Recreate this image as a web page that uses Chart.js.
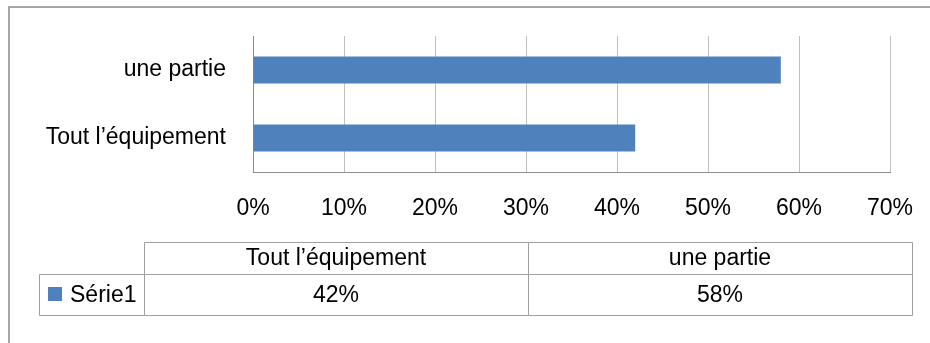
<!DOCTYPE html>
<html>
<head>
<meta charset="utf-8">
<script src="https://cdn.jsdelivr.net/npm/chart.js@4/dist/chart.umd.min.js"></script>
<style>
  html, body { margin: 0; padding: 0; background: #ffffff; }
  #wrap { width: 930px; height: 343px; position: relative; }
</style>
</head>
<body>
<div id="wrap"><canvas id="c" width="930" height="343"></canvas></div>
<script>
// Categories (in data-table order) and the single series, in percent
const categories = ["Tout l\u2019équipement", "une partie"];
const seriesName = "Série1";
const seriesValues = [42, 58];
const xTicks = [0, 10, 20, 30, 40, 50, 60, 70];

const BAR_BLUE = "#4F81BD";
const FONT = '"Liberation Sans", Arial, sans-serif';
const FONT_SIZE = 23;

// Outer frame plus the data table under the plot
const tablePlugin = {
  id: "dataTable",
  afterDraw(chart) {
    const ctx = chart.ctx;
    ctx.save();

    // chart frame (left and top edges)
    ctx.strokeStyle = "#A6A6A6";
    ctx.lineWidth = 2;
    ctx.beginPath();
    ctx.moveTo(9, 343);
    ctx.lineTo(9, 7);
    ctx.lineTo(930, 7);
    ctx.stroke();

    // table geometry
    const left = 39, keyRight = 144, right = 912;
    const top = 242, mid = 274, bottom = 315;
    const colW = (right - keyRight) / categories.length;

    ctx.strokeStyle = "#A0A0A0";
    ctx.lineWidth = 1;
    ctx.beginPath();
    // header row
    ctx.moveTo(keyRight + 0.5, top + 0.5);
    ctx.lineTo(right + 0.5, top + 0.5);
    // row separator and bottom
    ctx.moveTo(left + 0.5, mid + 0.5);
    ctx.lineTo(right + 0.5, mid + 0.5);
    ctx.moveTo(left + 0.5, bottom + 0.5);
    ctx.lineTo(right + 0.5, bottom + 0.5);
    // verticals
    ctx.moveTo(left + 0.5, mid + 0.5);
    ctx.lineTo(left + 0.5, bottom + 0.5);
    for (let i = 0; i <= categories.length; i++) {
      const x = Math.round(keyRight + i * colW) + 0.5;
      ctx.moveTo(x, top + 0.5);
      ctx.lineTo(x, bottom + 0.5);
    }
    ctx.stroke();

    ctx.fillStyle = "#000000";
    ctx.font = FONT_SIZE + "px " + FONT;
    ctx.textAlign = "center";
    ctx.textBaseline = "middle";
    categories.forEach((cat, i) => {
      const cx = keyRight + (i + 0.5) * colW;
      ctx.fillText(cat, cx, (top + mid) / 2 + 1);
      ctx.fillText(seriesValues[i] + "%", cx, (mid + bottom) / 2 + 1);
    });

    // legend key for the series row
    ctx.fillStyle = BAR_BLUE;
    ctx.fillRect(48, 287, 14, 14);
    ctx.fillStyle = "#000000";
    ctx.textAlign = "left";
    ctx.fillText(seriesName, 70, (mid + bottom) / 2 + 1);

    ctx.restore();
  }
};

new Chart(document.getElementById("c"), {
  type: "bar",
  data: {
    labels: categories,
    datasets: [{
      label: seriesName,
      data: seriesValues,
      backgroundColor: BAR_BLUE,
      borderWidth: 0,
      categoryPercentage: 1.0,
      barPercentage: 0.4
    }]
  },
  options: {
    indexAxis: "y",
    responsive: false,
    animation: false,
    devicePixelRatio: 1,
    layout: { padding: { top: 36, right: 40, left: 0, bottom: 0 } },
    plugins: {
      legend: { display: false },
      tooltip: { enabled: false }
    },
    scales: {
      x: {
        min: 0,
        max: 70,
        afterBuildTicks(scale) {
          scale.ticks = xTicks.map(v => ({ value: v }));
        },
        afterFit(scale) {
          scale.height = 171;
          scale.paddingLeft = 0;
          scale.paddingRight = 0;
        },
        grid: { color: "#BFBFBF", lineWidth: 1, drawTicks: false },
        border: { display: true, color: "#8C8C8C", width: 1 },
        ticks: {
          padding: 23,
          color: "#000000",
          font: { family: FONT, size: FONT_SIZE },
          maxRotation: 0,
          callback: v => v + "%"
        }
      },
      y: {
        reverse: true,
        afterFit(scale) {
          scale.width = 253;
          scale.paddingTop = 0;
          scale.paddingBottom = 0;
        },
        grid: { display: true, color: "rgba(0,0,0,0)", drawTicks: false },
        border: { display: true, color: "#8C8C8C", width: 1 },
        ticks: {
          padding: 27,
          color: "#000000",
          font: { family: FONT, size: FONT_SIZE }
        }
      }
    }
  },
  plugins: [tablePlugin]
});
</script>
</body>
</html>
